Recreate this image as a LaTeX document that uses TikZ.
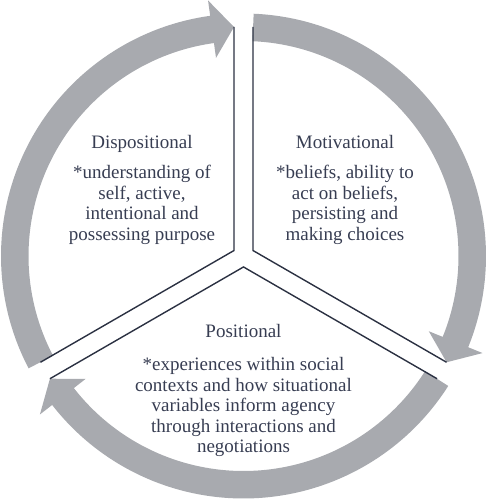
\documentclass[tikz,border=0pt]{standalone}
\usepackage{fontspec}
\setmainfont{Liberation Serif}
\usepackage{tikz}
\usetikzlibrary{calc}
\definecolor{ringGray}{RGB}{168,170,175}
\definecolor{lineNavy}{RGB}{43,49,66}
\definecolor{textSlate}{RGB}{55,61,82}

% ring arrow: tail angle, angle of the head's back, tip coordinate
\newcommand{\cyclearrow}[3]{%
  \fill[ringGray] (#1:242.5pt) arc[start angle=#1, end angle=#2, radius=242.5pt]
    -- (#2:258pt) -- (#3) -- (#2:200pt) -- (#2:215pt)
    arc[start angle=#2, end angle=#1, radius=215pt] -- cycle;}

\begin{document}
\begin{tikzpicture}[x=1pt, y=1pt,
    divider/.style={draw=lineNavy, line width=1.4pt, line join=miter},
    title/.style={font=\fontsize{19}{20.5}\selectfont, text=textSlate, anchor=base, inner sep=0pt},
    body/.style={font=\fontsize{19}{20.5}\selectfont, text=textSlate, align=center, inner sep=0pt}
]
\useasboundingbox (-243.5,-244) rectangle (243.5,256);

% Line ends and corners of the three sectors
\coordinate (motA) at ($(90:229pt)+(0:9.5pt)$);
\coordinate (motB) at (30:10.97pt);
\coordinate (motC) at ($(-30:229pt)+(60:9.5pt)$);
\coordinate (disA) at ($(90:229pt)+(180:9.5pt)$);
\coordinate (disB) at (150:10.97pt);
\coordinate (disC) at ($(210:229pt)+(120:9.5pt)$);
\coordinate (posA) at ($(210:229pt)+(300:9.5pt)$);
\coordinate (posB) at (270:10.97pt);
\coordinate (posC) at ($(330:229pt)+(240:9.5pt)$);

% Ring arrows
\cyclearrow{87.6}{-22.1}{motC}
\cyclearrow{-32.4}{-142.1}{posA}
\cyclearrow{207.6}{97.9}{disA}

% Sector borders
\draw[divider] (motA) -- (motB) -- (motC);
\draw[divider] (disA) -- (disB) -- (disC);
\draw[divider] (posA) -- (posB) -- (posC);

% Sector texts
\node[title] (disTitle) at (-101.5,107.5) {Dispositional};
\node[body] (disText) at (-101.5,51) {*understanding of\\self, active,\\intentional and\\possessing purpose};
\node[title] (motTitle) at (101.5,107.5) {Motivational};
\node[body] (motText) at (101.5,51) {*beliefs, ability to\\act on beliefs,\\persisting and\\making choices};
\node[title] (posTitle) at (0,-81) {Positional};
\node[body] (posText) at (0,-151) {*experiences within social\\contexts and how situational\\variables inform agency\\through interactions and\\negotiations};

\end{tikzpicture}
\end{document}
